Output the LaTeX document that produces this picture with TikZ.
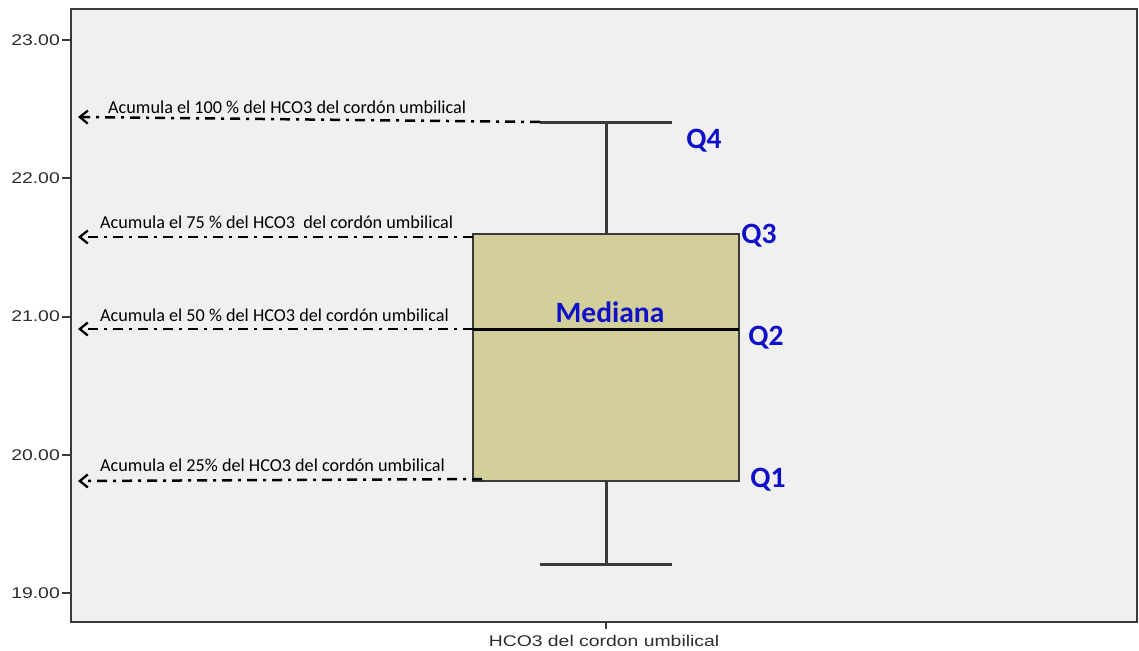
\documentclass[tikz,border=0pt]{standalone}
\usepackage{fontspec}
\setmainfont{Carlito}
\newfontfamily\axisfont[FakeStretch=1.25]{Liberation Sans}
\usetikzlibrary{arrows.meta}
\definecolor{plotbg}{HTML}{F0F0F0}
\definecolor{boxfill}{HTML}{D3CF9B}
\definecolor{framec}{HTML}{3A3A3A}
\definecolor{labblue}{RGB}{16,16,200}
\definecolor{axistext}{HTML}{2E2E2E}
\begin{document}
\begin{tikzpicture}[x=1pt,y=-1pt,
  frame/.style={draw=framec,line width=2.2pt},
  boxst/.style={draw=framec,line width=2.6pt,fill=boxfill},
  whisk/.style={draw=framec,line width=3pt},
  medline/.style={draw=black,line width=3pt},
  annline/.style={draw=black,line width=2.5pt,dash pattern=on 10pt off 6pt on 3pt off 6pt,
     -{Straight Barb[length=8pt,width=13pt,line width=2.3pt]}},
  anntext/.style={font=\fontsize{18.2}{20}\selectfont,anchor=west,inner sep=0pt},
  qlab/.style={font=\fontsize{29.5}{31}\selectfont\bfseries,text=labblue,inner sep=0pt},
  ticklab/.style={font=\axisfont\fontsize{15.5}{17}\selectfont,text=axistext,anchor=east,inner sep=0pt},
  tickst/.style={draw=framec,line width=2pt}]
\useasboundingbox (0,0) rectangle (1139,650);
\fill[white] (0,0) rectangle (1139,650);
\path[fill=plotbg,frame] (71,9) rectangle (1137,622);
% y ticks
\foreach \v/\y in {23.00/40,22.00/178,21.00/316.5,20.00/455,19.00/593}{
  \draw[tickst] (62,\y) -- (71,\y);
  \node[ticklab] at (60,\y) {\v};
}
% x tick and label
\draw[tickst] (606,622) -- (606,629);
\node[font=\axisfont\fontsize{15.5}{17}\selectfont,text=axistext,inner sep=0pt] (xlab) at (604,641) {HCO3 del cordon umbilical};
% whiskers
\coordinate (wtop) at (606,122);
\coordinate (wbot) at (606,564);
\coordinate (q3mid) at (606,234);
\coordinate (q1mid) at (606,481);
\draw[whisk] (wtop) -- (q3mid);
\draw[whisk] (q1mid) -- (wbot);
\draw[whisk] (540,122) -- (672,122);
\draw[whisk] (540,564) -- (672,564);
% box
\path[boxst] (473,234) rectangle (739,481);
\draw[medline] (473,329) -- (739,329);
% annotation arrows
\coordinate (a4s) at (540,122); \coordinate (a4e) at (78,117);
\coordinate (a3s) at (473,237); \coordinate (a3e) at (78,237);
\coordinate (a2s) at (473,329); \coordinate (a2e) at (78,329);
\coordinate (a1s) at (482,479); \coordinate (a1e) at (78,481);
\draw[annline] (a4s) -- (a4e);
\draw[annline] (a3s) -- (a3e);
\draw[annline] (a2s) -- (a2e);
\draw[annline] (a1s) -- (a1e);
\node[anntext] (t4) at (108,107) {Acumula el 100 \% del HCO3 del cordón umbilical};
\node[anntext] (t3) at (100,222) {Acumula el 75 \% del HCO3~ del cordón umbilical};
\node[anntext] (t2) at (100,315) {Acumula el 50 \% del HCO3 del cordón umbilical};
\node[anntext] (t1) at (100,465) {Acumula el 25\% del HCO3 del cordón umbilical};
% labels
\node[qlab] (med) at (610,312) {Mediana};
\node[qlab] (q4) at (704,141) {Q4};
\node[qlab] (q3) at (759,236) {Q3};
\node[qlab] (q2) at (766,338) {Q2};
\node[qlab] (q1) at (768,480) {Q1};
\end{tikzpicture}
\end{document}
